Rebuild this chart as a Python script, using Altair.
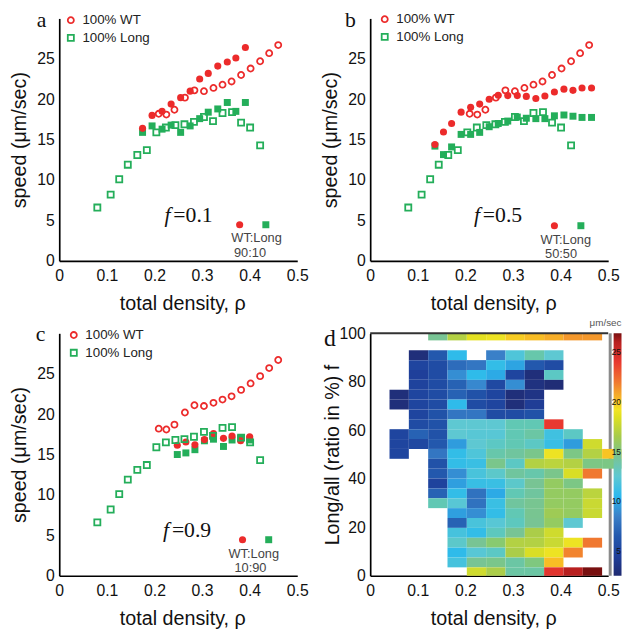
import altair as alt
import pandas as pd

# ---------------- data ----------------
# reference curves, identical in panels a-c (open markers)
wt_rho = [0.209, 0.225, 0.242, 0.264, 0.284, 0.304, 0.324, 0.343, 0.362, 0.382, 0.402, 0.422, 0.441, 0.460]
wt_speed = [18.2, 18.1, 18.7, 20.2, 21.1, 21.0, 21.4, 21.8, 22.2, 23.0, 23.8, 24.7, 25.7, 26.7]
long_rho = [0.080, 0.108, 0.126, 0.144, 0.164, 0.184, 0.204, 0.224, 0.244, 0.263, 0.283, 0.304,
            0.323, 0.343, 0.363, 0.382, 0.401, 0.422]
long_speed = [6.6, 8.2, 10.1, 11.9, 13.1, 13.7, 15.9, 16.5, 16.8, 16.9, 17.2, 17.8,
              17.3, 18.3, 18.4, 17.1, 16.5, 14.3]

# mixtures (filled markers)
a_rho = [0.175, 0.195, 0.216, 0.235, 0.255, 0.275, 0.295, 0.313, 0.333, 0.353, 0.371, 0.391]
a_wt = [16.4, 18.0, 18.5, 19.4, 20.2, 21.0, 22.5, 23.2, 24.1, 24.6, 25.1, 26.4]
a_long = [15.9, 16.7, 16.3, 16.8, 15.9, 16.7, 17.6, 18.4, 18.8, 19.6, 18.5, 19.6]

b_rho = [0.136, 0.154, 0.171, 0.191, 0.211, 0.230, 0.250, 0.269, 0.289, 0.309, 0.328, 0.348,
         0.367, 0.387, 0.407, 0.426, 0.445, 0.465]
b_wt = [14.4, 15.95, 17.0, 18.4, 19.0, 19.4, 20.0, 20.5, 20.45, 20.45, 20.35, 20.1,
        20.4, 20.9, 21.25, 21.1, 21.4, 21.4]
b_long = [14.2, 13.15, 14.1, 15.65, 15.65, 15.9, 16.6, 17.0, 17.3, 17.8, 17.65, 17.6,
          17.6, 17.95, 18.05, 17.9, 17.75, 17.75]

c_rho = [0.248, 0.266, 0.285, 0.305, 0.324, 0.345, 0.363, 0.381, 0.400]
c_wt = [16.15, 16.55, 16.2, 16.85, 17.6, 17.0, 17.3, 16.7, 17.2]
c_long = [15.0, 15.2, 15.6, 16.7, 16.9, 16.0, 16.8, 17.0, 16.8]

# heat map: mean speed per (density bin, Long fraction bin); None = no data
rho_bin = 0.0406
f_bin = 4.07
heat_rows = {
    24: [None, None, None, 14.5, 17.0, 18.7, 19.0, 19.8, 20.2, 20.6, 21.2, 21.2, None],
    22: [None, None, 3.0, 6.5, 10.8, None, 8.5, 12.0, 13.8, 12.5, None, None, None],
    21: [None, None, 5.0, 5.5, 7.5, 8.0, 11.0, 9.8, 6.5, 5.5, None, None, None],
    20: [None, None, 4.5, 5.5, 9.0, 10.8, 10.0, 5.0, 3.0, 13.0, None, None, None],
    19: [None, None, 4.8, 5.5, 7.0, 8.8, 5.3, 9.0, 3.3, 2.8, None, None, None],
    18: [None, 3.0, 5.0, 5.5, 7.0, 6.0, 5.0, 3.0, 3.5, None, None, None, None],
    17: [None, 3.0, 5.0, 5.5, 10.8, 5.5, 5.0, 3.0, 4.3, None, None, None, None],
    16: [None, None, 5.0, 6.0, 8.0, 8.0, 5.5, 5.5, 6.0, None, None, None, None],
    15: [None, None, 5.5, 6.0, 12.5, 12.5, 12.5, 13.5, 13.5, 24.0, None, None, None],
    14: [None, 5.0, 7.0, 6.0, 12.5, 12.3, 12.3, 13.5, 14.0, 11.5, 13.0, None, None],
    13: [None, 5.0, 5.2, 6.5, 9.5, 12.5, 13.0, 13.5, 13.0, 11.2, 9.5, 18.0, None],
    12: [None, 5.0, None, 8.0, 11.0, 12.0, 13.8, 14.2, 14.8, 19.0, 15.0, 17.0, 20.0],
    11: [None, None, None, 6.0, 11.0, 11.3, 14.8, 13.0, 17.0, 17.3, 17.0, 15.0, 15.0],
    10: [None, None, None, 6.5, 9.0, 11.8, 12.8, 14.2, 13.8, 14.8, 18.3, 22.0, None],
    9: [None, None, None, 4.8, 9.6, 11.2, 11.3, 12.8, 14.5, 16.0, 15.0, None, None],
    8: [None, None, None, 7.0, 11.0, 7.8, 10.0, 13.5, 14.2, 16.0, 16.0, 17.3, None],
    7: [None, None, None, 13.5, 12.3, 7.8, 11.3, 14.2, 14.6, 16.0, 16.0, 17.8, None],
    6: [None, None, None, None, 9.6, 9.0, 11.0, 13.5, 14.6, 16.3, 16.0, 17.8, None],
    5: [None, None, None, None, 7.0, 11.8, 12.3, 13.2, 14.5, 16.0, 12.5, None, None],
    4: [None, None, None, None, 11.7, 11.0, 13.2, 14.5, 16.7, 18.0, None, None, None],
    3: [None, None, None, None, 12.8, 14.5, 15.6, 17.0, 17.0, 17.8, 19.0, 22.0, None],
    2: [None, None, None, None, 10.8, 12.3, 13.0, 16.7, 18.3, 19.0, 21.7, None, None],
    1: [None, None, None, None, 11.7, 14.5, 14.8, 14.0, 15.2, 20.2, None, None, None],
    0: [None, None, None, None, None, 18.0, 16.7, 14.0, 14.0, 24.3, 26.0, 27.0, None],
}
colorbar_ticks = [25, 20, 15, 10, 5]
speed_lo, speed_hi = 2.5, 26.9

# jet-like colormap (style)
cm_values = [2.5, 4.5, 6.5, 8.5, 10.5, 12.5, 14.5, 16.5, 18.5, 19.2, 20.0, 21.0, 22.0, 24.0, 26.0, 27.0]
cm_colors = ["#1f2a70", "#1f3f9a", "#2358ad", "#3a80c8", "#2bb8ee", "#5ec8d2", "#78c494", "#a6cb4c",
             "#dfe020", "#f2e424", "#f8c424", "#f4a02c", "#f07830", "#e83830", "#b82020", "#781010"]

# ---------------- styling ----------------
RED = "#ec2b2b"
GREEN = "#24ae5a"
W, H = 241.5, 246
SANS = "Liberation Sans"
SERIF = "Liberation Serif"
one = pd.DataFrame({"k": [0]})


def x_axis():
    return alt.Axis(values=[0, 0.1, 0.2, 0.3, 0.4, 0.5], format="~g", labelPadding=7,
                    labelFlush=False, title="total density,  ρ", titleX=61, titleY=49,
                    titleAlign="left", titleBaseline="alphabetic", titleAngle=0)


def y_axis(values, title, tx):
    return alt.Axis(values=values, labelPadding=5, title=title, titleX=tx, titleY=H / 2,
                    titleAngle=-90, titleAlign="center", titleBaseline="middle")


def letter(ch, x, y, size=22):
    return alt.Chart(one).mark_text(text=ch, font=SERIF, fontSize=size, align="center",
                                    baseline="alphabetic", color="#111").encode(
        x=alt.value(x), y=alt.value(y))


def scatter_panel(ch, mix_rho, mix_wt, mix_long, fval, ratio, ann, lx, ly):
    xs = alt.Scale(domain=[0, 0.5], nice=False, zero=False)
    ys = alt.Scale(domain=[0, 30], nice=False)
    xe = alt.X("rho:Q", scale=xs, axis=x_axis())
    ye = alt.Y("speed:Q", scale=ys, axis=y_axis([0, 5, 10, 15, 20, 25], "speed (μm/sec)", -40))

    ref = pd.DataFrame({"rho": wt_rho + long_rho, "speed": wt_speed + long_speed,
                        "series": ["100% WT"] * len(wt_rho) + ["100% Long"] * len(long_rho)})
    mwt = pd.DataFrame({"rho": mix_rho, "speed": mix_wt})
    mlong = pd.DataFrame({"rho": mix_rho, "speed": mix_long})

    leg = alt.Legend(title=None, orient="none", legendX=lx, legendY=ly, labelFont=SANS,
                     labelFontSize=13.5, labelColor="#222", symbolSize=38, symbolStrokeWidth=1.8,
                     rowPadding=3, labelOffset=5, padding=0)
    dom = ["100% WT", "100% Long"]

    f_long = alt.Chart(mlong).mark_point(filled=True, shape="square", size=50, color=GREEN,
                                         opacity=1).encode(x=xe, y=ye)
    f_wt = alt.Chart(mwt).mark_point(filled=True, shape="circle", size=52, color=RED,
                                     opacity=1).encode(x=xe, y=ye)
    op = alt.Chart(ref).mark_point(filled=False, size=38, strokeWidth=1.8, opacity=1).encode(
        x=xe, y=ye,
        color=alt.Color("series:N", scale=alt.Scale(domain=dom, range=[RED, GREEN]), legend=leg),
        shape=alt.Shape("series:N", scale=alt.Scale(domain=dom, range=["circle", "square"]),
                        legend=leg))

    fx, fy = ann["f"]
    t_f = alt.Chart(one).mark_text(text="f", font=SERIF, fontStyle="italic", fontSize=22,
                                   align="left", baseline="alphabetic", color="#111").encode(
        x=alt.datum(fx), y=alt.datum(fy))
    t_v = alt.Chart(one).mark_text(text="=" + fval, font=SERIF, fontSize=22, align="left",
                                   baseline="alphabetic", dx=9, color="#111").encode(
        x=alt.datum(fx), y=alt.datum(fy))
    k_wt = alt.Chart(one).mark_point(filled=True, shape="circle", size=52, color=RED,
                                     opacity=1).encode(x=alt.datum(ann["dot"][0]),
                                                       y=alt.datum(ann["dot"][1]))
    k_lg = alt.Chart(one).mark_point(filled=True, shape="square", size=50, color=GREEN,
                                     opacity=1).encode(x=alt.datum(ann["sq"][0]),
                                                       y=alt.datum(ann["sq"][1]))
    t_k = alt.Chart(one).mark_text(text="WT:Long", font=SANS, fontSize=13, align="center",
                                   baseline="middle", color="#444").encode(
        x=alt.datum(ann["key"][0]), y=alt.datum(ann["key"][1]))
    t_r = alt.Chart(one).mark_text(text=ratio, font=SANS, fontSize=13, align="center",
                                   baseline="middle", color="#444").encode(
        x=alt.datum(ann["ratio"][0]), y=alt.datum(ann["ratio"][1]))

    return alt.layer(f_long, f_wt, op, t_f, t_v, k_wt, k_lg, t_k, t_r,
                     letter(ch, ann["letter"][0], ann["letter"][1])).properties(width=W, height=H)


pa = scatter_panel("a", a_rho, a_wt, a_long, "0.1", "90:10",
                   {"f": (0.221, 4.8), "dot": (0.379, 4.47), "sq": (0.434, 4.47),
                    "key": (0.4145, 2.8), "ratio": (0.4007, 0.97), "letter": (-18, 9)}, 5, -5)
pb = scatter_panel("b", b_rho, b_wt, b_long, "0.5", "50:50",
                   {"f": (0.218, 4.8), "dot": (0.387, 4.35), "sq": (0.4426, 4.35),
                    "key": (0.411, 2.6), "ratio": (0.401, 0.8), "letter": (-20, 9)}, 8, -6)
pc = scatter_panel("c", c_rho, c_wt, c_long, "0.9", "10:90",
                   {"f": (0.218, 4.8), "dot": (0.385, 4.46), "sq": (0.440, 4.46),
                    "key": (0.4086, 2.68), "ratio": (0.4017, 0.93), "letter": (-19, 8)}, 8, -5)

# ---------------- heat map panel ----------------
cells = []
for r, vals in heat_rows.items():
    for c, v in enumerate(vals):
        if v is None:
            continue
        cells.append({"x0": c * rho_bin, "x1": (c + 1) * rho_bin,
                      "y0": max(0.0, r * f_bin - 0.6), "y1": min(100.0, (r + 1) * f_bin - 0.6),
                      "speed": v})
cells = pd.DataFrame(cells)

hx = alt.Scale(domain=[0, 0.5], range=[0, W], nice=False, zero=False)
hy = alt.Scale(domain=[0, 100], nice=False)
cscale = alt.Scale(domain=cm_values, range=cm_colors, clamp=True)

hx_enc = alt.X("x0:Q", scale=hx, axis=x_axis())
hy_enc = alt.Y("y0:Q", scale=hy, axis=y_axis([0, 20, 40, 60, 80, 100], "Long/all (ratio in %)  f", -38))

right_bar = alt.Chart(one).mark_rule(color="#8a8a8a", strokeWidth=3).encode(
    x=alt.value(243.5), y=alt.datum(0, scale=hy), y2=alt.datum(100))
rects = alt.Chart(cells).mark_rect().encode(
    x=hx_enc, x2="x1:Q", y=hy_enc, y2="y1:Q",
    color=alt.Color("speed:Q", scale=cscale, legend=None))
top_bar = alt.Chart(one).mark_rule(color="#333333", strokeWidth=2).encode(
    x=alt.datum(0, scale=hx), x2=alt.datum(0.5), y=alt.datum(100, scale=hy))

grad = alt.LinearGradient(
    gradient="linear", x1=0, y1=1, x2=0, y2=0,
    stops=[alt.GradientStop(offset=min(1.0, (v - speed_lo) / (speed_hi - speed_lo)), color=col)
           for v, col in zip(cm_values, cm_colors)])
cbar = alt.Chart(one).mark_rect(color=grad).encode(
    x=alt.value(247), x2=alt.value(255), y=alt.datum(0, scale=hy), y2=alt.datum(100))
cb_lab = alt.Chart(pd.DataFrame({"v": colorbar_ticks})).transform_calculate(
    fpos=f"(datum.v - {speed_lo}) / ({speed_hi} - {speed_lo}) * 100"
).mark_text(font=SANS, fontSize=8.5, align="right", baseline="middle", color="#111").encode(
    x=alt.value(254.5), y=alt.Y("fpos:Q", scale=hy), text="v:Q")
cb_title = alt.Chart(one).mark_text(text="μm/sec", font=SANS, fontSize=10, align="right",
                                    baseline="alphabetic", color="#555").encode(
    x=alt.value(255), y=alt.value(-7))

pd_panel = alt.layer(right_bar, rects, top_bar, cbar, cb_lab, cb_title,
                     letter("d", -41, 13, 24)).properties(width=255, height=H)

chart = alt.ConcatChart(
    concat=[pa, pb, pc, pd_panel], columns=2, spacing=73.5, bounds="flush", align="each",
    padding={"left": 2, "top": -3, "right": 0, "bottom": 0}
).resolve_scale(color="independent", shape="independent").configure_axis(
    domainColor="#000", domainWidth=1.7, ticks=False, tickSize=0, grid=False, labelFont=SANS,
    labelFontSize=16, labelColor="#111", titleFont=SANS, titleFontSize=20,
    titleFontWeight="normal", titleColor="#111"
).configure_view(stroke=None)

chart.save("out.html", embed_options={"renderer": "svg", "actions": False})
